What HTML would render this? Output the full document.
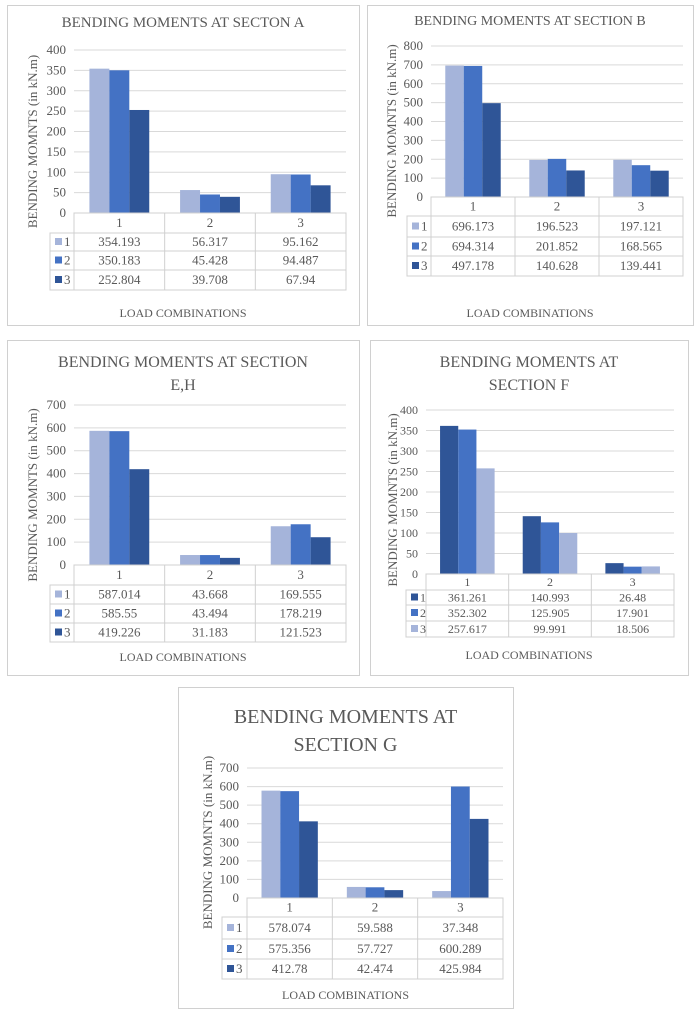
<!DOCTYPE html>
<html><head><meta charset="utf-8"><style>
body{margin:0;background:#fff;width:700px;height:1021px;overflow:hidden}
svg{position:absolute;left:0;top:0}
text{font-family:"Liberation Serif",serif;fill:#595959}
</style></head><body>
<svg id="s" width="700" height="1021" xmlns="http://www.w3.org/2000/svg"></svg>
<script>
const L='#a5b4da',M='#4472c4',D='#2f5597';
const charts=[
{box:[7,5,352,320],title:[["BENDING MOMENTS AT SECTON A",22]],ts:15,px:[74,346],py:[50,213],max:400,step:50,
 rows:[213,233,251,270,290],leg:50,lc:313,yt:33,cols:[L,M,D],
 data:[[354.193,56.317,95.162],[350.183,45.428,94.487],[252.804,39.708,67.94]],vals:null},
{box:[367,5,326,320],title:[["BENDING MOMENTS AT SECTION B",20]],ts:14,px:[431,683],py:[46,197],max:800,step:100,
 rows:[197,216,237,256,276],leg:407,lc:313,yt:392,cols:[L,M,D],
 data:[[696.173,196.523,197.121],[694.314,201.852,168.565],[497.178,140.628,139.441]]},
{box:[7,340,352,335],title:[["BENDING MOMENTS AT SECTION",362],["E,H",385]],ts:16,px:[74,346],py:[405,565],max:700,step:100,
 rows:[565,585,604,623,642],leg:50,lc:657,yt:33,cols:[L,M,D],
 data:[[587.014,43.668,169.555],[585.55,43.494,178.219],[419.226,31.183,121.523]]},
{box:[370,340,318,335],title:[["BENDING MOMENTS AT",362],["SECTION F",385]],ts:16,px:[426,674],py:[410,574],max:400,step:50,
 rows:[574,590,605,621,637],leg:406,lc:655,yt:393,cols:[D,M,L],small:true,
 data:[[361.261,140.993,26.48],[352.302,125.905,17.901],[257.617,99.991,18.506]]},
{box:[178,687,335,321],title:[["BENDING MOMENTS AT",718],["SECTION G",746]],ts:20,px:[247,503],py:[768,898],max:700,step:100,
 rows:[898,917,939,959,979],leg:222,lc:995,yt:208,cols:[L,M,D],
 data:[[578.074,59.588,37.348],[575.356,57.727,600.289],[412.78,42.474,425.984]]}
];
let h='';
for(const c of charts){
 const [bx,by,bw,bh]=c.box;
 h+=`<rect x="${bx+.5}" y="${by+.5}" width="${bw}" height="${bh}" fill="#fff" stroke="#d0d0d0"/>`;
 const cx=bx+bw/2;
 for(const [t,y] of c.title) h+=`<text x="${cx}" y="${y+5}" font-size="${c.ts}" text-anchor="middle">${t}</text>`;
 const [x0,x1]=c.px,[yt,y0]=c.py, fs=c.small?11:12;
 for(let v=0;v<=c.max;v+=c.step){const y=y0-(y0-yt)*v/c.max;
  if(v>0)h+=`<line x1="${x0}" x2="${x1}" y1="${y}" y2="${y}" stroke="#d9d9d9"/>`;
  h+=`<text x="${x0-8}" y="${y+4}" font-size="${fs+1}" text-anchor="end">${v}</text>`;}
 const cw=(x1-x0)/3,bwid=cw*0.22;
 for(let s=0;s<3;s++)for(let k=0;k<3;k++){const v=c.data[s][k];const hh=(y0-yt)*v/c.max;
  const x=x0+k*cw+cw*0.17+s*bwid;h+=`<rect x="${x}" y="${y0-hh}" width="${bwid}" height="${hh}" fill="${c.cols[s]}"/>`;}
 const r=c.rows,st='stroke="#d0d0d0" fill="none"';
 h+=`<rect x="${x0}" y="${r[0]}" width="${x1-x0}" height="${r[1]-r[0]}" ${st}/>`;
 h+=`<rect x="${c.leg}" y="${r[1]}" width="${x1-c.leg}" height="${r[4]-r[1]}" ${st}/>`;
 for(let i=2;i<4;i++)h+=`<line x1="${c.leg}" x2="${x1}" y1="${r[i]}" y2="${r[i]}" stroke="#d0d0d0"/>`;
 h+=`<line x1="${x0}" x2="${x0}" y1="${r[0]}" y2="${r[4]}" stroke="#d0d0d0"/>`;
 for(let k=1;k<3;k++)h+=`<line x1="${x0+k*cw}" x2="${x0+k*cw}" y1="${r[0]}" y2="${r[4]}" stroke="#d0d0d0"/>`;
 for(let k=0;k<3;k++)h+=`<text x="${x0+k*cw+cw/2}" y="${(r[0]+r[1])/2+4}" font-size="${fs+1}" text-anchor="middle">${k+1}</text>`;
 for(let s=0;s<3;s++){const ym=(r[s+1]+r[s+2])/2;
  h+=`<rect x="${c.leg+5}" y="${ym-4}" width="7" height="7" fill="${c.cols[s]}"/>`;
  h+=`<text x="${c.leg+14}" y="${ym+4}" font-size="${fs+1}">${s+1}</text>`;
  for(let k=0;k<3;k++)h+=`<text x="${x0+k*cw+cw/2}" y="${ym+4}" font-size="${fs+1}" text-anchor="middle">${c.data[s][k]}</text>`;}
 h+=`<text x="${cx}" y="${c.lc+4}" font-size="12" text-anchor="middle">LOAD COMBINATIONS</text>`;
 const ty=(yt+r[1])/2;
 h+=`<text transform="translate(${c.yt+4},${ty}) rotate(-90)" font-size="13" text-anchor="middle">BENDING MOMNTS (in kN.m)</text>`;
}
document.getElementById('s').innerHTML=h;
</script>
</body></html>
